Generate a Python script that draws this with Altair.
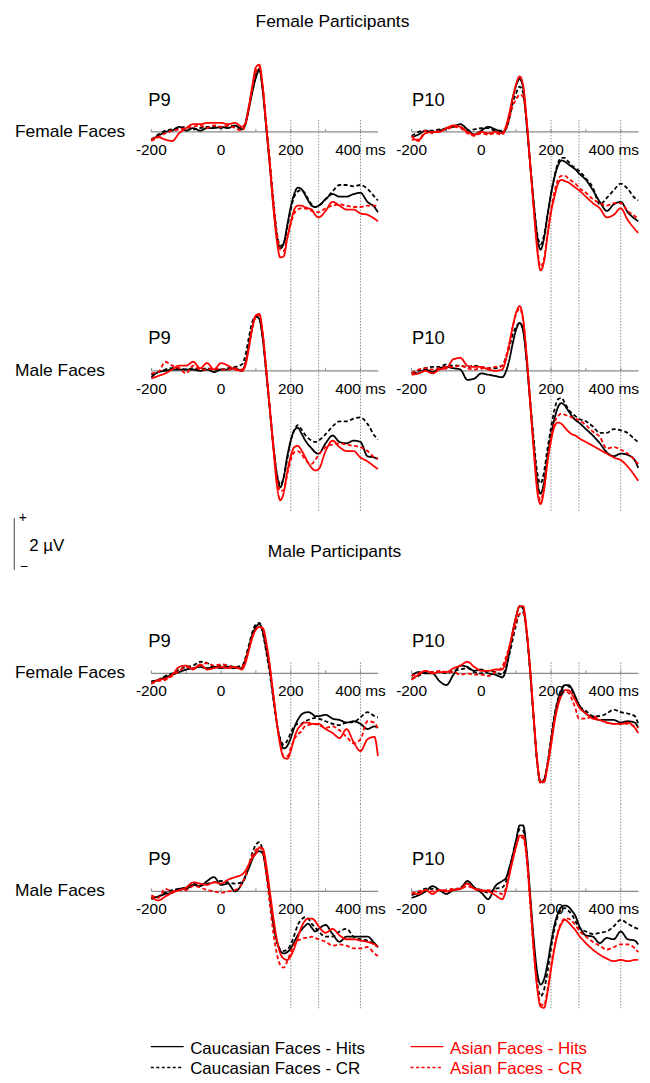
import altair as alt
import pandas as pd

# ---------------- data (µV) ----------------
TIME = [-200, -180, -160, -140, -120, -100, -80, -60, -40, -20, 0, 20, 40,
        60, 70, 80, 90, 100, 110, 120, 130, 140, 150, 160, 170, 180, 190, 200,
        210, 220, 230, 240, 250, 260, 270, 280,
        300, 320, 340, 360, 380, 400, 420, 440, 450]

SERIES = ["Caucasian Faces - Hits", "Caucasian Faces - CR", "Asian Faces - Hits", "Asian Faces - CR"]
COLORS = ["#000000", "#000000", "#ff0000", "#ff0000"]
DASHES = [[1, 0], [4, 2.5], [1, 0], [4, 2.5]]

# Female participants, female faces, P9
fpff_p9_ch = [-0.30,-0.15,0.00,0.05,0.20,0.05,0.15,0.05,0.15,0.15,0.20,0.15,0.25] + [0.10,0.30,0.90,1.55,2.10,2.40,1.55,0.10,-1.30,-2.80,-4.00,-4.50,-4.30,-3.60,-2.90,-2.40,-2.15,-2.20,-2.40,-2.65,-2.85,-2.90,-2.85] + [-2.60,-2.40,-2.50,-2.50,-2.40,-2.35,-2.70,-2.90,-3.10]
fpff_p9_ccr = [-0.30,-0.10,0.05,0.10,0.15,0.20,0.10,0.15,0.20,0.20,0.15,0.25,0.20] + [0.15,0.35,1.00,1.65,2.20,2.45,1.60,0.20,-1.20,-2.70,-3.90,-4.40,-4.30,-3.70,-3.00,-2.50,-2.30,-2.25,-2.35,-2.60,-2.80,-2.90,-2.85] + [-2.60,-2.30,-2.05,-2.05,-2.10,-2.05,-2.20,-2.50,-2.65]
fpff_p9_ah = [-0.30,-0.20,-0.30,-0.35,-0.05,0.15,0.30,0.30,0.35,0.35,0.35,0.30,0.35] + [0.20,0.35,1.00,1.80,2.50,2.60,1.70,0.20,-1.30,-2.90,-4.20,-4.85,-4.80,-4.10,-3.50,-3.00,-2.85,-2.85,-2.90,-2.95,-3.00,-3.20,-3.30] + [-3.05,-2.70,-2.85,-3.00,-3.00,-3.15,-3.20,-3.35,-3.45]
fpff_p9_acr = [-0.35,-0.20,-0.05,0.05,0.10,0.15,0.20,0.25,0.15,0.25,0.20,0.25,0.15] + [0.05,0.30,0.95,1.70,2.30,2.50,1.70,0.30,-1.10,-2.60,-3.90,-4.55,-4.60,-4.10,-3.55,-3.15,-3.00,-2.95,-2.95,-3.00,-3.05,-3.10,-3.10] + [-2.95,-2.85,-2.80,-2.85,-2.90,-2.90,-2.85,-2.85,-2.90]

# Female participants, female faces, P10
fpff_p10_ch = [-0.20,-0.10,0.05,0.00,0.05,0.15,0.20,0.30,0.10,-0.10,0.05,0.20,0.10] + [0.00,0.10,0.60,1.30,1.80,2.05,1.70,0.30,-1.20,-2.70,-4.00,-4.55,-4.10,-3.20,-2.40,-1.75,-1.30,-1.10,-1.15,-1.25,-1.35,-1.45,-1.60] + [-1.85,-2.25,-2.70,-3.05,-2.80,-2.70,-3.10,-3.35,-3.45]
fpff_p10_ccr = [-0.15,0.00,0.05,0.05,0.10,0.10,0.25,0.20,0.05,0.10,0.15,0.15,0.05] + [0.05,0.10,0.50,1.10,1.50,1.75,1.50,0.40,-1.20,-2.70,-3.90,-4.35,-4.00,-3.20,-2.40,-1.70,-1.20,-1.00,-1.00,-1.15,-1.30,-1.40,-1.50] + [-1.80,-2.15,-2.80,-2.55,-2.25,-2.00,-2.20,-2.55,-2.65]
fpff_p10_ah = [-0.30,-0.30,-0.05,0.00,0.00,0.15,0.25,0.20,0.00,-0.10,0.00,-0.05,0.00] + [-0.05,0.20,0.70,1.30,1.85,2.15,1.80,0.50,-1.20,-2.90,-4.50,-5.35,-5.00,-4.00,-3.10,-2.50,-2.00,-1.85,-1.90,-1.95,-2.05,-2.15,-2.25] + [-2.50,-2.75,-2.95,-3.30,-3.20,-2.95,-3.40,-3.75,-3.90]
fpff_p10_acr = [-0.15,-0.35,0.05,-0.05,0.05,0.10,0.20,0.15,-0.05,-0.15,-0.05,-0.10,-0.05] + [-0.10,0.10,0.50,1.00,1.25,1.45,1.35,0.40,-1.20,-2.90,-4.40,-5.20,-4.90,-3.90,-3.00,-2.30,-1.85,-1.70,-1.70,-1.80,-1.90,-2.00,-2.15] + [-2.35,-2.60,-2.75,-2.85,-2.75,-2.75,-3.05,-3.25,-3.35]

# Female participants, male faces, P9
fpmf_p9_ch = [-0.25,-0.05,0.00,0.05,0.05,0.05,0.05,0.00,0.05,-0.05,0.05,0.05,0.10] + [0.00,0.30,1.00,1.70,2.10,2.00,1.20,-0.10,-1.50,-2.90,-4.00,-4.50,-4.10,-3.30,-2.70,-2.30,-2.20,-2.40,-2.65,-2.85,-3.00,-3.15,-3.20] + [-2.80,-2.50,-2.75,-2.80,-2.70,-2.75,-3.30,-3.35,-3.40]
fpmf_p9_ccr = [-0.15,-0.05,0.05,0.10,0.10,0.05,0.10,0.05,0.10,0.05,0.05,0.10,0.15] + [0.25,0.60,1.30,1.90,2.10,2.00,1.25,-0.10,-1.50,-2.90,-3.95,-4.40,-4.10,-3.40,-2.70,-2.30,-2.10,-2.25,-2.45,-2.60,-2.70,-2.75,-2.70] + [-2.45,-2.15,-1.95,-1.95,-1.85,-1.80,-2.05,-2.50,-2.65]
fpmf_p9_ah = [-0.30,-0.20,-0.10,0.05,0.20,0.20,0.35,0.10,0.30,0.05,0.30,0.20,0.05] + [0.00,0.20,0.90,1.70,2.15,2.20,1.40,0.00,-1.50,-3.00,-4.40,-5.00,-4.70,-3.90,-3.30,-2.95,-2.90,-3.05,-3.30,-3.55,-3.75,-3.85,-3.80] + [-3.10,-2.70,-2.95,-3.10,-3.10,-3.35,-3.50,-3.70,-3.80]
fpmf_p9_acr = [-0.10,-0.05,0.35,0.20,0.10,-0.10,0.20,0.05,0.05,0.10,0.05,0.05,0.10] + [0.05,0.30,0.95,1.65,2.10,2.15,1.40,0.00,-1.40,-2.80,-4.10,-4.65,-4.60,-4.00,-3.45,-3.15,-3.10,-3.20,-3.40,-3.55,-3.60,-3.45,-3.25] + [-2.95,-2.85,-2.80,-2.85,-2.90,-2.95,-3.10,-3.35,-3.40]

# Female participants, male faces, P10
fpmf_p10_ch = [-0.05,-0.10,0.05,-0.05,0.10,0.15,0.10,0.05,-0.35,-0.30,-0.10,-0.15,-0.20] + [-0.25,-0.05,0.40,1.05,1.60,1.85,1.55,0.40,-1.20,-2.80,-4.20,-4.75,-4.30,-3.30,-2.50,-1.85,-1.40,-1.25,-1.35,-1.55,-1.75,-1.90,-2.00] + [-2.25,-2.50,-2.80,-3.15,-3.30,-3.20,-3.25,-3.45,-3.75]
fpmf_p10_ccr = [-0.10,0.00,0.10,0.15,0.15,0.25,0.20,0.20,0.15,0.20,0.15,0.10,0.10] + [0.20,0.50,0.90,1.40,1.70,1.85,1.60,0.40,-1.10,-2.60,-3.90,-4.35,-3.90,-3.00,-2.20,-1.50,-1.10,-1.05,-1.25,-1.50,-1.65,-1.75,-1.85] + [-1.95,-2.15,-2.40,-2.40,-2.25,-2.30,-2.40,-2.65,-2.75]
fpmf_p10_ah = [-0.15,-0.10,0.00,-0.10,0.05,0.10,0.45,0.50,0.20,0.15,0.15,0.05,0.00] + [0.05,0.40,1.00,1.70,2.25,2.50,2.00,0.60,-1.20,-3.00,-4.60,-5.15,-4.60,-3.50,-2.70,-2.15,-2.00,-2.05,-2.20,-2.35,-2.45,-2.50,-2.60] + [-2.75,-2.90,-3.05,-3.20,-3.35,-3.45,-3.70,-4.05,-4.25]
fpmf_p10_acr = [-0.10,0.05,0.10,0.05,0.10,0.15,0.15,0.20,0.10,0.05,0.10,0.10,0.15] + [0.20,0.50,1.05,1.70,2.20,2.40,1.95,0.60,-1.10,-2.90,-4.40,-5.00,-4.50,-3.50,-2.60,-2.00,-1.75,-1.65,-1.70,-1.75,-1.80,-1.85,-1.90] + [-2.10,-2.35,-2.55,-3.00,-2.95,-3.05,-3.20,-3.45,-3.60]

# Male participants, female faces, P9
mpff_p9_ch = [-0.35,-0.25,-0.15,-0.05,0.05,0.15,0.20,0.25,0.20,0.25,0.20,0.25,0.20] + [0.20,0.50,1.00,1.50,1.80,1.90,1.60,0.90,0.10,-0.90,-1.90,-2.60,-2.90,-2.80,-2.50,-2.10,-1.80,-1.60,-1.52,-1.50,-1.55,-1.65,-1.65] + [-1.60,-1.75,-1.80,-1.90,-1.85,-1.95,-2.15,-2.05,-2.10]
mpff_p9_ccr = [-0.30,-0.25,-0.10,0.00,0.15,0.25,0.30,0.45,0.40,0.25,0.30,0.30,0.25] + [0.30,0.60,1.10,1.60,1.90,1.95,1.55,0.80,0.00,-1.00,-1.95,-2.55,-2.75,-2.60,-2.30,-2.05,-1.95,-1.95,-1.85,-1.80,-1.75,-1.72,-1.75] + [-1.85,-1.95,-2.00,-1.90,-1.88,-1.70,-1.50,-1.65,-1.70]
mpff_p9_ah = [-0.40,-0.25,-0.20,-0.05,0.25,0.30,0.15,0.35,0.15,0.20,0.25,0.20,0.25] + [0.15,0.40,0.90,1.40,1.70,1.80,1.75,1.20,0.30,-0.80,-1.90,-2.80,-3.25,-3.30,-3.00,-2.50,-2.15,-2.00,-1.90,-1.90,-1.95,-1.95,-1.95] + [-2.15,-2.30,-2.50,-2.15,-2.65,-3.00,-2.55,-2.45,-3.20]
mpff_p9_acr = [-0.40,-0.30,-0.25,-0.10,0.10,0.25,0.20,0.30,0.40,0.30,0.35,0.30,0.20] + [0.25,0.55,0.95,1.40,1.70,1.80,1.70,1.05,0.20,-0.85,-1.90,-2.75,-3.20,-3.20,-2.90,-2.55,-2.35,-2.25,-2.05,-2.00,-1.97,-1.96,-2.00] + [-2.10,-2.05,-2.20,-2.45,-2.70,-2.55,-1.85,-1.90,-2.15]

# Male participants, female faces, P10
mpff_p10_ch = [-0.10,0.05,0.00,0.00,-0.30,-0.45,-0.05,0.30,0.25,0.10,0.15,0.00,-0.05] + [-0.15,0.10,0.80,1.60,2.20,2.60,2.50,1.60,0.10,-1.70,-3.40,-4.20,-4.10,-3.50,-2.60,-1.70,-1.05,-0.65,-0.45,-0.45,-0.60,-0.90,-1.20] + [-1.55,-1.70,-1.80,-1.80,-1.80,-1.90,-1.85,-1.90,-2.10]
mpff_p10_ccr = [-0.20,-0.10,0.05,0.05,0.05,0.00,0.10,0.15,0.20,0.05,0.00,0.10,0.05] + [-0.05,0.20,0.70,1.30,1.90,2.30,2.35,1.60,0.10,-1.70,-3.40,-4.25,-4.15,-3.50,-2.50,-1.60,-1.00,-0.60,-0.45,-0.50,-0.65,-0.95,-1.25] + [-1.45,-1.65,-1.65,-1.55,-1.40,-1.50,-1.55,-1.65,-1.95]
mpff_p10_ah = [-0.25,-0.05,0.10,0.00,0.05,0.05,0.20,0.30,0.45,0.25,0.10,0.10,0.15] + [0.15,0.45,1.00,1.60,2.20,2.60,2.60,1.70,0.20,-1.60,-3.30,-4.20,-4.20,-3.60,-2.80,-1.90,-1.25,-0.85,-0.65,-0.65,-0.80,-1.05,-1.30] + [-1.55,-1.75,-1.80,-1.90,-1.95,-1.95,-1.90,-2.10,-2.30]
mpff_p10_acr = [-0.10,0.00,0.10,0.05,0.10,0.05,0.05,-0.05,0.00,-0.05,-0.05,-0.10,0.05] + [0.25,0.60,1.00,1.50,2.00,2.30,2.35,1.60,0.10,-1.70,-3.40,-4.25,-4.15,-3.50,-2.60,-1.75,-1.15,-0.80,-0.70,-0.75,-1.00,-1.35,-1.75] + [-1.75,-1.65,-1.80,-1.90,-1.95,-1.95,-1.95,-2.05,-2.10]

# Male participants, male faces, P9
mpmf_p9_ch = [-0.25,-0.20,-0.10,-0.05,0.10,0.10,0.25,0.20,0.40,0.55,0.25,0.30,0.00] + [0.30,0.60,0.90,1.25,1.50,1.55,1.45,0.80,-0.20,-1.20,-1.90,-2.30,-2.40,-2.35,-2.20,-1.95,-1.70,-1.50,-1.35,-1.25,-1.40,-1.55,-1.45] + [-1.30,-1.65,-1.95,-1.75,-1.75,-1.75,-1.75,-2.00,-2.15]
mpmf_p9_ccr = [-0.30,-0.20,-0.05,0.05,0.10,0.15,0.30,0.25,0.30,0.35,0.40,0.35,0.30] + [0.35,0.55,1.00,1.50,1.80,1.90,1.55,0.80,-0.20,-1.20,-1.95,-2.25,-2.30,-2.25,-2.05,-1.70,-1.30,-1.10,-1.00,-1.05,-1.25,-1.40,-1.55] + [-1.75,-1.75,-1.55,-1.45,-1.75,-1.85,-1.90,-2.05,-2.15]
mpmf_p9_ah = [-0.20,-0.35,-0.20,-0.05,0.05,0.15,0.35,0.30,0.25,0.35,0.30,0.45,0.55] + [0.65,0.80,1.05,1.30,1.45,1.70,1.65,1.00,0.00,-1.00,-1.85,-2.40,-2.60,-2.65,-2.50,-2.20,-1.80,-1.40,-1.15,-1.05,-1.05,-1.15,-1.35] + [-1.60,-1.45,-1.70,-1.85,-1.85,-1.90,-1.95,-2.05,-2.15]
mpmf_p9_acr = [-0.15,-0.25,0.10,0.00,0.05,0.05,0.20,0.15,0.05,0.00,-0.05,0.00,0.05] + [0.30,0.60,1.05,1.40,1.60,1.70,1.50,0.60,-0.50,-1.60,-2.40,-2.85,-2.95,-2.70,-2.35,-2.05,-1.90,-1.85,-1.80,-1.80,-1.75,-1.80,-1.85] + [-1.95,-2.10,-2.05,-2.10,-2.20,-2.20,-2.15,-2.40,-2.50]

# Male participants, male faces, P10
mpmf_p10_ch = [-0.25,-0.15,0.00,0.20,0.05,-0.10,0.05,0.10,0.40,0.15,-0.05,-0.30,0.20] + [0.40,0.50,0.90,1.40,2.00,2.55,2.55,1.60,-0.10,-1.80,-3.10,-3.60,-3.40,-2.80,-2.00,-1.30,-0.85,-0.60,-0.55,-0.60,-0.75,-0.95,-1.30] + [-1.70,-1.75,-2.00,-1.80,-1.85,-1.55,-1.85,-1.90,-2.05]
mpmf_p10_ccr = [-0.15,-0.05,0.10,0.10,0.05,0.00,0.05,0.15,0.30,0.15,0.05,-0.05,0.10] + [0.15,0.35,0.80,1.40,1.95,2.40,2.35,1.40,-0.30,-2.10,-3.50,-4.05,-3.80,-3.10,-2.20,-1.45,-0.95,-0.70,-0.65,-0.75,-0.90,-1.15,-1.40] + [-1.55,-1.65,-1.60,-1.55,-1.35,-1.10,-1.25,-1.40,-1.45]
mpmf_p10_ah = [-0.05,-0.10,0.05,-0.10,0.05,0.00,0.05,0.10,0.30,0.10,0.05,0.00,-0.15] + [-0.30,0.00,0.60,1.20,1.75,2.15,2.15,1.40,-0.30,-2.20,-3.70,-4.45,-4.50,-3.90,-3.00,-2.20,-1.60,-1.25,-1.10,-1.20,-1.35,-1.50,-1.70] + [-2.00,-2.25,-2.45,-2.60,-2.70,-2.65,-2.70,-2.65,-2.65]
mpmf_p10_acr = [-0.10,0.00,0.05,0.00,0.05,0.05,0.10,0.10,0.20,0.10,0.00,0.05,0.00] + [-0.10,0.10,0.65,1.25,1.75,2.10,2.05,1.30,-0.40,-2.20,-3.60,-4.35,-4.40,-3.80,-2.90,-2.10,-1.55,-1.20,-1.05,-1.05,-1.15,-1.30,-1.50] + [-1.75,-1.95,-2.10,-2.25,-2.15,-2.05,-2.05,-2.20,-2.35]

PANEL_DATA = {
    "fpff_p9": [fpff_p9_ch, fpff_p9_ccr, fpff_p9_ah, fpff_p9_acr],
    "fpff_p10": [fpff_p10_ch, fpff_p10_ccr, fpff_p10_ah, fpff_p10_acr],
    "fpmf_p9": [fpmf_p9_ch, fpmf_p9_ccr, fpmf_p9_ah, fpmf_p9_acr],
    "fpmf_p10": [fpmf_p10_ch, fpmf_p10_ccr, fpmf_p10_ah, fpmf_p10_acr],
    "mpff_p9": [mpff_p9_ch, mpff_p9_ccr, mpff_p9_ah, mpff_p9_acr],
    "mpff_p10": [mpff_p10_ch, mpff_p10_ccr, mpff_p10_ah, mpff_p10_acr],
    "mpmf_p9": [mpmf_p9_ch, mpmf_p9_ccr, mpmf_p9_ah, mpmf_p9_acr],
    "mpmf_p10": [mpmf_p10_ch, mpmf_p10_ccr, mpmf_p10_ah, mpmf_p10_acr],
}

TICKS = [-200, -100, 0, 100, 200, 300, 400]
LABEL_T = [-200, 0, 200]
LABELS = ["-200", "0", "200"]
LAST_T = 400
LAST_LABEL = "400 ms"
MARKERS = [200, 280, 400]
ROW_LABELS = ["Female Faces", "Male Faces", "Female Faces", "Male Faces"]
ELECTRODES = ["P9", "P10"]

# ---------------- layout ----------------
FONT = "Liberation Sans"
PX_PER_UV = 26.0
W = 228
XDOM = [-200, 451]
HEIGHTS = [250, 300, 215, 235]
BASE = [90, 80, 84, 88]          # baseline position (px from top of panel)
DOT_SPAN = [(78, 250), (0, 222), (73, 215), (0, 207)]
AXC = "#8a8a8a"

rows = []
for key, lists in PANEL_DATA.items():
    for s, vals in zip(SERIES, lists):
        if len(vals) != len(TIME):
            raise ValueError(f"{key} {s}: {len(vals)} values")
        for t, v in zip(TIME, vals):
            rows.append({"panel": key, "series": s, "t": t, "v": v})
df = pd.DataFrame(rows)
ONE = pd.DataFrame({"k": [0]})


def txt(s, x, y, size, align="left", baseline="middle", color="#000000"):
    return alt.Chart(ONE).mark_text(text=s, align=align, baseline=baseline, fontSize=size,
                                    font=FONT, color=color).encode(x=alt.value(x), y=alt.value(y))


def seg(x, x2, y, y2, color, width, dash=None):
    kw = dict(color=color, strokeWidth=width)
    if dash is not None:
        kw["strokeDash"] = dash
    return alt.Chart(ONE).mark_rule(**kw).encode(x=alt.value(x), x2=alt.value(x2),
                                                 y=alt.value(y), y2=alt.value(y2))


def panel(key, r, c):
    h = HEIGHTS[r]
    b = BASE[r]
    xs = alt.Scale(domain=XDOM, nice=False, zero=False)
    ys = alt.Scale(domain=[-(h - b) / PX_PER_UV, b / PX_PER_UV], nice=False, zero=False)
    X = alt.X("t:Q", scale=xs, axis=None)
    layers = []
    d0, d1 = DOT_SPAN[r]
    layers.append(alt.Chart(pd.DataFrame({"t": MARKERS})).mark_rule(
        color="#8c8c8c", strokeWidth=1, strokeDash=[1.5, 1.5]).encode(
        x=X, y=alt.value(d0), y2=alt.value(d1)))
    layers.append(seg(0, W, b, b, AXC, 1.2))
    layers.append(alt.Chart(pd.DataFrame({"t": TICKS})).mark_rule(color=AXC, strokeWidth=1).encode(
        x=X, y=alt.value(b - 3), y2=alt.value(b)))
    layers.append(alt.Chart(df[df.panel == key]).mark_line(strokeWidth=1.8, interpolate="monotone").encode(
        x=X,
        y=alt.Y("v:Q", scale=ys, axis=None),
        color=alt.Color("series:N", scale=alt.Scale(domain=SERIES, range=COLORS), legend=None),
        strokeDash=alt.StrokeDash("series:N", scale=alt.Scale(domain=SERIES, range=DASHES), legend=None),
    ))
    layers.append(alt.Chart(pd.DataFrame({"t": LABEL_T, "lab": LABELS})).mark_text(
        fontSize=15.5, font=FONT, align="center", baseline="alphabetic", color="#000000").encode(
        x=X, y=alt.value(b + 23), text="lab:N"))
    # last tick label: kept inside the page on the right-hand column
    layers.append(alt.Chart(pd.DataFrame({"t": [LAST_T], "lab": [LAST_LABEL]})).mark_text(
        fontSize=15.5, font=FONT, align="center", baseline="alphabetic", color="#000000",
        dx=0 if c == 0 else -7).encode(x=X, y=alt.value(b + 23), text="lab:N"))
    layers.append(txt(ELECTRODES[c], -3 if c == 0 else 0.5, b - 26.5, 18.5, baseline="alphabetic"))
    if c == 0:
        layers.append(txt(ROW_LABELS[r], -137, b, 17.5))
        if r == 0:
            layers.append(txt("Female Participants", 182, -20, 17.5, align="center"))
        if r == 1:
            layers.append(txt("Male Participants", 184, 262, 17.5, align="center"))
            layers.append(seg(-137.7, -137.7, 228, 280, "#444444", 1))
            layers.append(txt("+", -129, 228, 14, align="center"))
            layers.append(txt("2 µV", -122.7, 256, 17))
            layers.append(txt("\u2212", -128, 277, 14, align="center"))
        if r == 3:
            # key
            for i, (s, col, dash) in enumerate(zip(SERIES, COLORS, DASHES)):
                cx = 0 if i < 2 else 261
                ry = 246 + 21 * (i % 2)
                layers.append(seg(cx - 0.5, cx + 32.5, ry - 2, ry - 2, col, 1.5,
                                  None if dash == [1, 0] else [3, 2.5]))
                layers.append(txt(s, cx + 39, ry, 17, color=col))
    return alt.layer(*layers).properties(width=W, height=h)


KEYS = [("fpff_p9", "fpff_p10"), ("fpmf_p9", "fpmf_p10"), ("mpff_p9", "mpff_p10"), ("mpmf_p9", "mpmf_p10")]
cells = []
for r, (a, bk) in enumerate(KEYS):
    cells.append(panel(a, r, 0))
    cells.append(panel(bk, r, 1))

chart = alt.concat(*cells, columns=2, spacing={"row": 0, "column": 33.5},
                   bounds="flush", align="each").configure_view(
    strokeWidth=0).properties(padding={"left": 5, "top": 3, "right": 0, "bottom": 0})

chart.save("out.html", embed_options={"renderer": "svg", "actions": False})
